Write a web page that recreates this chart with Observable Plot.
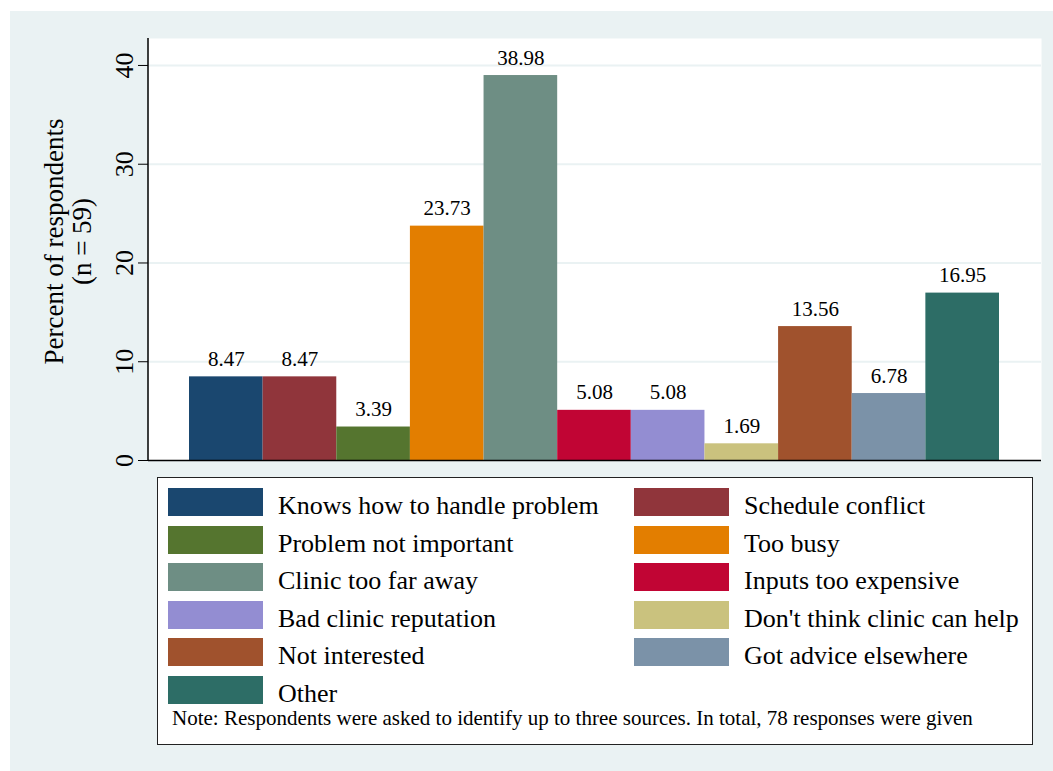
<!DOCTYPE html>
<html><head><meta charset="utf-8">
<script src="https://cdn.jsdelivr.net/npm/d3@7"></script>
<script src="https://cdn.jsdelivr.net/npm/@observablehq/plot@0.6"></script>
<style>
body{margin:0;background:#fff;width:1053px;height:771px;position:relative;overflow:hidden;font-family:"Liberation Serif",Tinos,"Noto Serif","DejaVu Serif",serif;color:#000;}
#bg{position:absolute;left:10px;top:11px;width:1043px;height:760px;background:#eaf2f3;}
#chart{position:absolute;left:0;top:0;}
#legend{position:absolute;left:157px;top:477px;width:876px;height:268px;box-sizing:border-box;border:1.5px solid #222;background:#fff;}
#items{position:absolute;left:10px;top:10px;display:grid;grid-template-columns:466px 380px;grid-auto-rows:37.5px;}
.item{display:flex;align-items:flex-start;}
.sw{width:95px;height:28px;flex:none;}
.lab{margin-left:15px;padding-top:3px;font-size:26px;line-height:30px;white-space:nowrap;}
#note{position:absolute;left:14px;top:228px;font-size:21px;white-space:nowrap;}
</style></head>
<body>
<div id="bg"></div>
<div id="chart"></div>
<div id="legend"><div id="items"></div><div id="note"></div></div>
<script>
const categories = ["Knows how to handle problem","Schedule conflict","Problem not important","Too busy","Clinic too far away","Inputs too expensive","Bad clinic reputation","Don't think clinic can help","Not interested","Got advice elsewhere","Other"];
const values = [8.47, 8.47, 3.39, 23.73, 38.98, 5.08, 5.08, 1.69, 13.56, 6.78, 16.95];
const colors = ["#1a476f","#90353b","#55752f","#e37e00","#6e8e84","#c10534","#938dd2","#cac27e","#a0522d","#7b92a8","#2d6d66"];
const yTicks = [0, 10, 20, 30, 40];
const gridTicks = [10, 20, 30, 40];
const yTitle = "Percent of respondents\n(n = 59)";
const note = "Note: Respondents were asked to identify up to three sources. In total, 78 responses were given";

const data = categories.map((c, i) => ({category: c, value: values[i]}));
const font = '"Liberation Serif",Tinos,"Noto Serif","DejaVu Serif",serif';

const leftLine = (index, scales, values, dims) => {
  const g = d3.create("svg:line")
    .attr("x1", dims.marginLeft).attr("x2", dims.marginLeft)
    .attr("y1", dims.marginTop).attr("y2", dims.height - dims.marginBottom)
    .attr("stroke", "#000").attr("stroke-width", 1.5);
  return g.node();
};

const chart = Plot.plot({
  width: 1053, height: 470,
  marginLeft: 148, marginRight: 12, marginTop: 38, marginBottom: 10,
  style: {background: "transparent", fontFamily: font, color: "#000", overflow: "visible"},
  x: {domain: categories, range: [189, 999], padding: 0, round: false, axis: null},
  y: {domain: [0, 42.73]},
  color: {domain: categories, range: colors},
  marks: [
    Plot.frame({fill: "white", stroke: null}),
    Plot.ruleY(gridTicks, {stroke: "#eaf2f3", strokeWidth: 2}),
    Plot.barY(data, {x: "category", y: "value", fill: "category", inset: 0}),
    Plot.text(data, {x: "category", y: "value", text: d => d.value.toFixed(2), dy: -11, lineAnchor: "bottom", fontSize: 21, fill: "#000"}),
    Plot.ruleY([0], {stroke: "#000", strokeWidth: 1.5}),
    leftLine,
    Plot.axisY({ticks: yTicks, tickSize: 10, tickPadding: 6, tickRotate: -90, fontSize: 26, label: null, stroke: "#000"}),
    Plot.text([yTitle], {frameAnchor: "left", text: d => d, rotate: -90, dx: -106, dy: -8, textAnchor: "middle", lineAnchor: "top", fontSize: 27, lineHeight: 1.05, fill: "#000"})
  ]
});
document.getElementById("chart").appendChild(chart);

const items = document.getElementById("items");
categories.forEach((c, i) => {
  const it = document.createElement("div");
  it.className = "item";
  const sw = document.createElement("div");
  sw.className = "sw";
  sw.style.background = colors[i];
  const lab = document.createElement("div");
  lab.className = "lab";
  lab.textContent = c;
  it.appendChild(sw); it.appendChild(lab);
  items.appendChild(it);
});
document.getElementById("note").textContent = note;
</script>
</body></html>
